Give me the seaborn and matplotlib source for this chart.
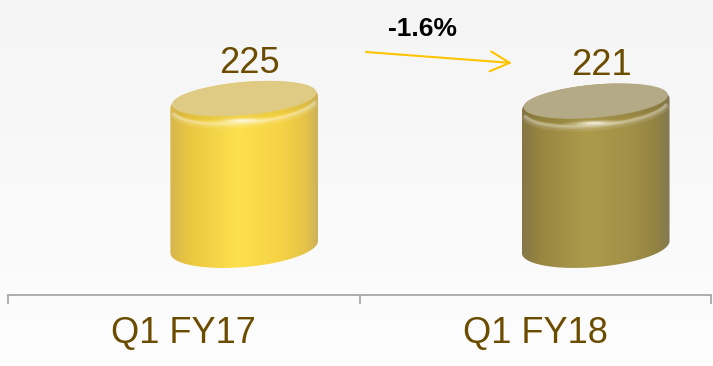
import numpy as np
import matplotlib
matplotlib.use("Agg")
import matplotlib.pyplot as plt
from matplotlib.colors import LinearSegmentedColormap
from matplotlib.patches import Polygon
import seaborn as sns

# ---- data -------------------------------------------------------------
categories = ["Q1 FY17", "Q1 FY18"]
values = [225, 221]
change_label = "-1.6%"

# ---- styling ----------------------------------------------------------
side_stops = [
    ["#D6B64E", "#E9C640", "#FDE04E", "#F6D345", "#E4C348", "#CDB15C"],
    ["#857646", "#978640", "#AD9B4C", "#A08F47", "#918142", "#847852"],
]
stop_pos = [0.0, 0.12, 0.45, 0.75, 0.92, 1.0]
top_colors = ["#DFCB83", "#B4AA85"]
shadow_colors = ["#B89A2A", "#6E6230"]
label_color = "#6B4C00"
axis_color = "#9A9A9A"
arrow_color = "#FFC400"

W, H, DPI = 713, 366, 100
sns.set_style("white")
plt.rcParams["font.family"] = ["Liberation Sans", "DejaVu Sans"]

fig = plt.figure(figsize=(W / DPI, H / DPI), dpi=DPI)

# soft vertical background gradient
shade = np.linspace(245, 253, H)[:, None, None] / 255 * np.ones((1, W, 3))
fig.figimage(shade, 0, 0, zorder=0)

ax = fig.add_axes([8 / W, (H - 295) / H, 703 / W, 295 / H])
ax.set_facecolor("none")
ax.set_zorder(1)

sns.barplot(x=categories, y=values, hue=categories,
            palette=[s[2] for s in side_stops], width=0.42,
            legend=False, ax=ax)

# cylinders sit to the right of their category slot (perspective shift)
shift = 0.172
YLIM = (-74.5, 383.3)
XLIM = (-0.5 - shift, len(categories) - 0.5 - shift)
ax.set_ylim(*YLIM)
ax.set_xlim(*XLIM)

# pixel size of one data unit
p0 = ax.transData.transform((0, 0))
p1 = ax.transData.transform((1, 1))
sx, sy = p1 - p0

theta = np.deg2rad(5)   # tilt of the elliptical caps
b_cap = 20.0            # cap semi-minor axis, px


def rot_ellipse(cx, cy, a, b, t, ang=theta):
    dx = a * np.cos(t) * np.cos(ang) - b * np.sin(t) * np.sin(ang)
    dy = a * np.cos(t) * np.sin(ang) + b * np.sin(t) * np.cos(ang)
    return np.column_stack([cx + dx / sx, cy + dy / sy])


for patch, stops, top_c, shad_c in zip(ax.patches, side_stops, top_colors, shadow_colors):
    x0, w, h = patch.get_x(), patch.get_width(), patch.get_height()
    cx = x0 + w / 2
    half_w = w * sx / 2
    patch.set_visible(False)

    a_cap = np.sqrt(half_w ** 2 - (b_cap * np.sin(theta)) ** 2) / np.cos(theta)
    t_r = np.arctan2(-b_cap * np.sin(theta), a_cap * np.cos(theta))

    upper = rot_ellipse(cx, h, a_cap, b_cap, np.linspace(t_r, t_r + np.pi, 120))
    lower = rot_ellipse(cx, 0, a_cap, b_cap, np.linspace(t_r + np.pi, t_r + 2 * np.pi, 120))
    outline = np.vstack([upper, lower])
    body = Polygon(outline, closed=True, facecolor="none", edgecolor="none",
                   transform=ax.transData)
    ax.add_patch(body)

    cmap = LinearSegmentedColormap.from_list("body", list(zip(stop_pos, stops)))
    im = ax.imshow(np.linspace(0, 1, 256)[None, :], cmap=cmap,
                   extent=[cx - w / 2, cx + w / 2, outline[:, 1].min(), outline[:, 1].max()],
                   aspect="auto", interpolation="bilinear", zorder=2)
    im.set_clip_path(body)

    # rounded rim of the lid: soft light band along the front edge
    for off, lw, al in [(4.0, 5.0, 0.10), (3.0, 3.0, 0.15), (2.5, 1.6, 0.2)]:
        front = rot_ellipse(cx, h - off / sy, a_cap * 0.97, b_cap * 0.92,
                            np.linspace(t_r + np.pi + 0.2, t_r + 2 * np.pi - 0.2, 80))
        ax.plot(front[:, 0], front[:, 1], color="white", alpha=al, lw=lw,
                solid_capstyle="round", zorder=3, clip_path=body)

    # shade where the lid bevel turns down
    inner = rot_ellipse(cx, h + 2.0 / sy, a_cap * 0.96, b_cap * 0.84,
                        np.linspace(t_r + np.pi + 0.25, t_r + 2 * np.pi - 0.25, 80))
    ax.plot(inner[:, 0], inner[:, 1], color=shad_c, alpha=0.15, lw=3.5,
            solid_capstyle="round", zorder=3.5)

    # flat lid face
    face = rot_ellipse(cx, h + 3.5 / sy, a_cap * 0.97, b_cap * 0.8,
                       np.linspace(0, 2 * np.pi, 160))
    ax.add_patch(Polygon(face, closed=True, facecolor=top_c, edgecolor=top_c,
                         lw=0.8, zorder=4, transform=ax.transData))

    # specular glint on the front rim
    for k, al in zip(np.linspace(1.0, 0.25, 7), [0.06, 0.08, 0.1, 0.14, 0.2, 0.3, 0.5]):
        glint = rot_ellipse(cx - 2 / sx, h - 18.5 / sy, 32 * k, 3.6 * k,
                            np.linspace(0, 2 * np.pi, 60), ang=np.deg2rad(2))
        ax.add_patch(Polygon(glint, closed=True, facecolor="#FFFDF0", edgecolor="none",
                             alpha=al, zorder=5, transform=ax.transData))

    ax.annotate(f"{h:g}", xy=(cx, h), xytext=(4, 21), textcoords="offset points",
                ha="center", va="baseline", fontsize=26, color=label_color, zorder=6)

# category axis: boundary ticks with centred labels
ax.set_xticks([i - shift for i in range(len(categories))], labels=categories)
ax.set_xticks([i - 0.5 - shift for i in range(len(categories) + 1)], minor=True)
ax.tick_params(axis="x", which="major", length=0, pad=15, labelsize=26,
               labelcolor=label_color)
ax.tick_params(axis="x", which="minor", length=6.5, width=1.1, color=axis_color,
               direction="out", bottom=True)
ax.set_yticks([])
ax.set_xlabel("")
ax.set_ylabel("")
sns.despine(ax=ax, left=True)
ax.spines["bottom"].set_color(axis_color)
ax.spines["bottom"].set_linewidth(1.1)
ax.set_xlim(*XLIM)
ax.set_ylim(*YLIM)

# change between periods
ax.annotate("", xy=(512, H - 63), xytext=(366, H - 52),
            xycoords="figure pixels", textcoords="figure pixels",
            arrowprops=dict(arrowstyle="->,head_length=0.7,head_width=0.36",
                            color=arrow_color, lw=1.5, shrinkA=0, shrinkB=0,
                            mutation_scale=20))
fig.text(423 / W, (H - 36) / H, change_label, ha="center", va="baseline",
         fontsize=19, fontweight="bold", color="black")

fig.savefig("out.png", dpi=DPI)
